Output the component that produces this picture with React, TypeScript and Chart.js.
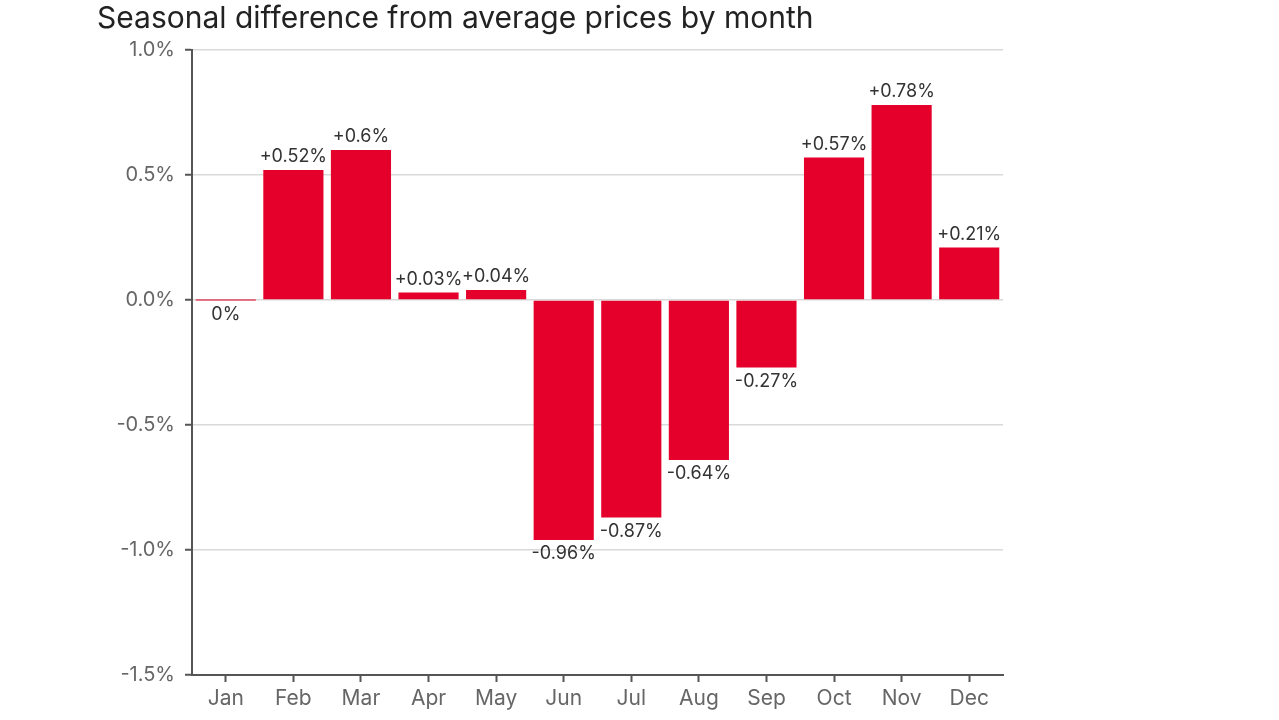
import React, { useEffect, useRef } from "react";
import { Chart, registerables } from "chart.js";

Chart.register(...registerables);

const TITLE = "Seasonal difference from average prices by month";
const months = ["Jan", "Feb", "Mar", "Apr", "May", "Jun", "Jul", "Aug", "Sep", "Oct", "Nov", "Dec"];
const values = [0, 0.52, 0.6, 0.03, 0.04, -0.96, -0.87, -0.64, -0.27, 0.57, 0.78, 0.21];
const yMin = -1.5;
const yMax = 1.0;
const yStep = 0.5;

const FONT = "Inter, 'Noto Sans', sans-serif";
const BAR_RED = "#e4002b";

const fmt = (v: number) => (v > 0 ? "+" + v + "%" : v + "%");

const labelPlugin = {
  id: "barLabels",
  afterDatasetsDraw(chart: any) {
    const ctx = chart.ctx;
    const meta = chart.getDatasetMeta(0);
    ctx.save();
    ctx.font = "18px " + FONT;
    ctx.fillStyle = "#333";
    ctx.textAlign = "center";
    ctx.textBaseline = "middle";
    meta.data.forEach((bar: any, i: number) => {
      const v = values[i];
      const top = Math.min(bar.y, bar.base);
      const bottom = Math.max(bar.y, bar.base);
      const y = v > 0 ? top - 13 : bottom + 14;
      ctx.fillText(fmt(v), bar.x, y);
    });
    ctx.restore();
  },
  afterDraw(chart: any) {
    const ctx = chart.ctx;
    ctx.save();
    ctx.font = "30px " + FONT;
    ctx.fillStyle = "#222";
    ctx.textAlign = "left";
    ctx.textBaseline = "middle";
    ctx.fillText(TITLE, 97, 19);
    ctx.restore();
  },
};

export default function App() {
  const ref = useRef<HTMLCanvasElement | null>(null);
  useEffect(() => {
    if (!ref.current) return;
    const chart = new Chart(ref.current, {
      type: "bar",
      data: {
        labels: months,
        datasets: [
          {
            data: values,
            backgroundColor: BAR_RED,
            borderWidth: 0,
            minBarLength: 1,
            categoryPercentage: 1,
            barPercentage: 0.89,
          },
        ],
      },
      options: {
        animation: false,
        responsive: false,
        maintainAspectRatio: false,
        layout: { padding: { top: 50, right: 276, bottom: 0, left: 0 } },
        plugins: {
          legend: { display: false },
          tooltip: { enabled: false },
          title: { display: false },
        },
        scales: {
          x: {
            offset: true,
            grid: {
              offset: false,
              drawOnChartArea: false,
              tickLength: 7,
              tickColor: "#555",
              tickWidth: 2,
            },
            border: { color: "#555", width: 2 },
            ticks: {
              color: "#666",
              font: { family: FONT, size: 21 },
              padding: 4,
            },
            afterFit: (s: any) => {
              s.height = 45;
            },
          },
          y: {
            min: yMin,
            max: yMax,
            grid: {
              color: "#d9d9d9",
              lineWidth: 1.5,
              tickLength: 7,
              tickColor: "#555",
              tickWidth: 2,
            },
            border: { color: "#555", width: 2 },
            ticks: {
              stepSize: yStep,
              color: "#666",
              font: { family: FONT, size: 20 },
              padding: 10,
              callback: (v: any) => Number(v).toFixed(1) + "%",
            },
            afterFit: (s: any) => {
              s.width = 192;
            },
          },
        },
      },
      plugins: [labelPlugin],
    });
    return () => chart.destroy();
  }, []);
  return (
    <div style={{ position: "absolute", left: 0, top: 0, width: 1279, height: 720, background: "#fff" }}>
      <canvas ref={ref} width={1279} height={720} style={{ width: 1279, height: 720 }} />
    </div>
  );
}
